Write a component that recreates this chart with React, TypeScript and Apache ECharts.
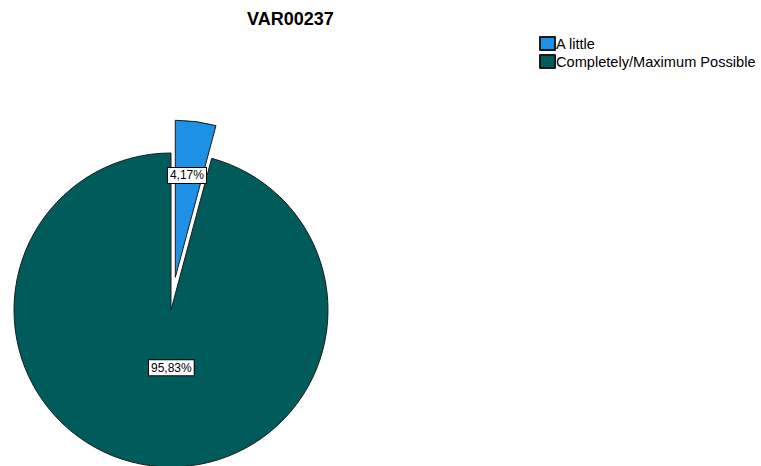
import React, { useEffect, useRef } from "react";
import * as echarts from "echarts";

const titleText = "VAR00237";
const categories = ["A little", "Completely/Maximum Possible"];
const values = [4.17, 95.83];
const colors = ["#1E90E6", "#005C5A"];
const labelOffsets: number[][] = [[1, -21], [11, -23]];

export default function App() {
  const ref = useRef<HTMLDivElement>(null);
  useEffect(() => {
    document.body.style.margin = "0";
    const chart = echarts.init(ref.current!, null, { renderer: "svg" });
    chart.setOption({
      animation: false,
      backgroundColor: "#ffffff",
      title: {
        text: titleText,
        left: 242,
        top: 5,
        textStyle: { fontFamily: "Liberation Sans, Arial", fontSize: 18, fontWeight: "bold", color: "#000" },
      },
      legend: {
        orient: "vertical",
        left: 534,
        top: 31,
        itemWidth: 15,
        itemHeight: 13,
        itemGap: 3,
        icon: "rect",
        data: categories,
        textStyle: { fontFamily: "Liberation Sans, Arial", fontSize: 14.6, lineHeight: 15, color: "#000", padding: [0, 0, 0, -4] },
      },
      series: [
        {
          type: "pie",
          center: [171, 310],
          radius: 157,
          startAngle: 90,
          clockwise: true,
          selectedMode: "multiple",
          selectedOffset: 33,
          avoidLabelOverlap: false,
          itemStyle: { borderColor: "#1a1a1a", borderWidth: 1 },
          label: {
            show: true,
            position: "inside",
            formatter: (p: any) => p.value.toFixed(2).replace(".", ",") + "%",
            backgroundColor: "#ffffff",
            borderColor: "#000000",
            borderWidth: 1,
            padding: [2, 2, 1, 2],
            color: "#000",
            fontFamily: "Liberation Sans, Arial",
            fontSize: 12,
          },
          labelLayout: (p: any) => ({ dx: labelOffsets[p.dataIndex][0], dy: labelOffsets[p.dataIndex][1] }),
          labelLine: { show: false },
          emphasis: { disabled: true },
          data: categories.map((name, i) => ({
            name,
            value: values[i],
            selected: i === 0,
            itemStyle: { color: colors[i] },
            select: { itemStyle: { color: colors[i], borderColor: "#1a1a1a", borderWidth: 1 } },
          })),
        },
      ],
    });
    return () => chart.dispose();
  }, []);
  return <div ref={ref} style={{ position: "fixed", left: 0, top: 0, width: 761, height: 466 }} />;
}
